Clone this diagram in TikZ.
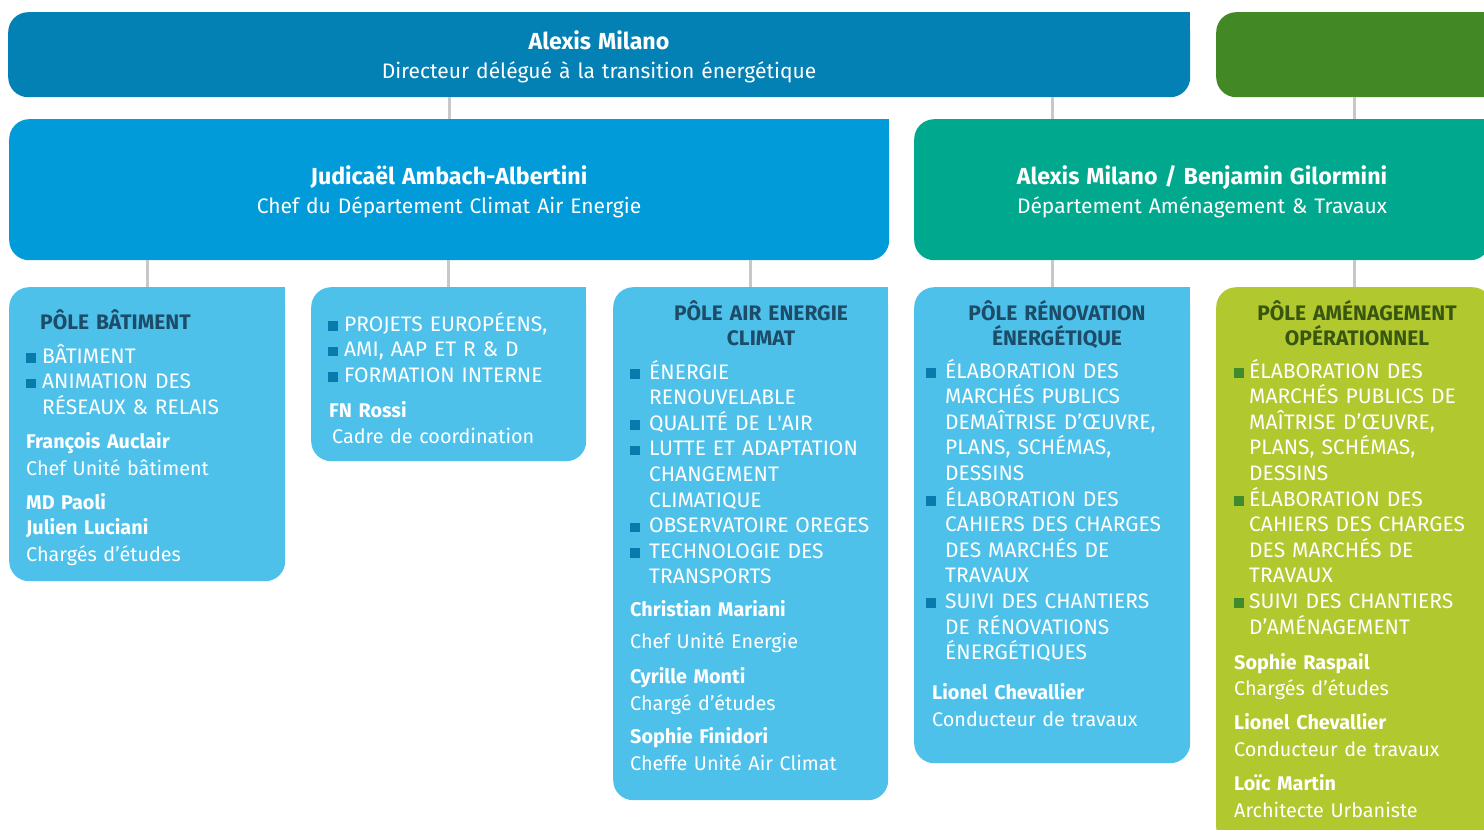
\documentclass[tikz,border=0pt]{standalone}
\usepackage{fontspec}
\setmainfont{Fira Sans}
\usetikzlibrary{positioning}

\definecolor{dirblue}{RGB}{3,128,180}
\definecolor{dirgreen}{RGB}{66,137,38}
\definecolor{depblue}{RGB}{0,155,216}
\definecolor{depgreen}{RGB}{0,169,142}
\definecolor{poleblue}{RGB}{78,193,235}
\definecolor{polegreen}{RGB}{177,200,46}
\definecolor{bulblue}{RGB}{9,122,172}
\definecolor{bulgreen}{RGB}{63,138,44}
\definecolor{titblue}{RGB}{29,76,104}
\definecolor{titgreen}{RGB}{57,86,16}
\definecolor{linkgray}{RGB}{200,200,200}

\newcommand{\polebul}[2][bulblue]{\makebox[#2][l]{\textcolor{#1}{\rule[0.5pt]{9.5pt}{9.5pt}}}}
\newcommand{\contind}[1]{\hspace*{#1}}
\newcommand{\headname}[1]{{\fontsize{23.2}{29}\selectfont\bfseries #1}}

\begin{document}
\begin{tikzpicture}[x=1pt, y=-1pt,
  box/.style={rectangle, rounded corners=20pt, inner sep=0pt, anchor=north west},
  link/.style={draw=linkgray, line width=3pt},
  head/.style={text=white, align=center, text width=860pt, inner sep=0pt, anchor=base,
    font=\fontsize{21}{29}\selectfont},
  poletitle/.style={text=titblue, align=center, text width=270pt, inner sep=0pt, anchor=base,
    font=\fontsize{21}{25}\selectfont\bfseries},
  polelist/.style={text=white, align=left, text width=270pt, inner sep=0pt, anchor=base west,
    font=\fontsize{21}{25.6}\selectfont},
  staff/.style={polelist, font=\fontsize{19.8}{25.6}\selectfont}]

\clip (0,0) rectangle (1484,830);

% boxes
\node[box, fill=dirblue, minimum width=1182pt, minimum height=85pt] (dir) at (8,12) {};
\node[box, fill=dirgreen, minimum width=290pt, minimum height=85pt] (dirg) at (1216,12) {};
\node[box, fill=depblue, minimum width=880pt, minimum height=141pt] (cae) at (9,119) {};
\node[box, fill=depgreen, minimum width=576pt, minimum height=141pt] (amt) at (914,119) {};
\node[box, fill=poleblue, minimum width=276pt, minimum height=294pt] (bat) at (9,287) {};
\node[box, fill=poleblue, minimum width=275pt, minimum height=174pt] (eur) at (311,287) {};
\node[box, fill=poleblue, minimum width=275pt, minimum height=513pt] (aec) at (613,287) {};
\node[box, fill=poleblue, minimum width=276pt, minimum height=476pt] (ren) at (914,287) {};
\node[box, fill=polegreen, minimum width=276pt, minimum height=560pt] (amo) at (1216,287) {};

% square top right corners
\foreach \b/\c in {dir/dirblue, dirg/dirgreen, cae/depblue, amt/depgreen, bat/poleblue, eur/poleblue, aec/poleblue, ren/poleblue}
  \fill[\c] (\b.north east) rectangle ++(-20,20);

% links
\draw[link] (dir.south -| cae.north) -- (cae.north);
\draw[link] (dir.south -| ren.north) -- (amt.north -| ren.north);
\draw[link] (dirg.south -| amo.north) -- (amt.north -| amo.north);
\foreach \p in {bat, eur, aec}
  \draw[link] (cae.south -| \p.north) -- (\p.north);
\foreach \p in {ren, amo}
  \draw[link] (amt.south -| \p.north) -- (\p.north);

% heads
\node[head] (dirtxt) at (599,49) {\headname{Alexis Milano}\\ Directeur délégué à la transition énergétique};
\node[head] (caetxt) at (449,184) {\headname{Judicaël Ambach-Albertini}\\ Chef du Département Climat Air Energie};
\node[head] (amttxt) at (1202,184) {\headname{Alexis Milano / Benjamin Gilormini}\\ Département Aménagement \& Travaux};

% pole batiment
\node[poletitle, anchor=base west, align=left] (battit) at (40,329) {PÔLE BÂTIMENT};
\node[polelist] (batlst) at (26,363) {\polebul{16pt}BÂTIMENT\\ \polebul{16pt}ANIMATION DES\\ \contind{16pt}RÉSEAUX \& RELAIS};
\node[staff] (batstf) at (26,448) {\textbf{François Auclair}\\[1.4pt] Chef Unité bâtiment\\[8.4pt] \textbf{MD Paoli}\\ \textbf{Julien Luciani}\\[1.4pt] Chargés d’études};

% projets europeens
\node[polelist] (eurlst) at (328,331) {\polebul{16pt}PROJETS EUROPÉENS,\\ \polebul{16pt}AMI, AAP ET R \& D\\ \polebul{16pt}FORMATION INTERNE};
\node[staff] (eurstf) at (329,417) {\textbf{FN Rossi}\\[0.4pt] \contind{3pt}Cadre de coordination};

% pole air energie climat
\node[poletitle] (aectit) at (761,320) {PÔLE AIR ENERGIE\\ CLIMAT};
\node[polelist] (aeclst) at (630,379) {\polebul{19pt}ÉNERGIE\\ \contind{19pt}RENOUVELABLE\\ \polebul{19pt}QUALITÉ DE L\textquotesingle AIR\\
  \polebul{19pt}LUTTE ET ADAPTATION\\ \contind{19pt}CHANGEMENT\\ \contind{19pt}CLIMATIQUE\\ \polebul{19pt}OBSERVATOIRE OREGES\\
  \polebul{19pt}TECHNOLOGIE DES\\ \contind{19pt}TRANSPORTS};
\node[staff] (aecstf) at (630,616) {\textbf{Christian Mariani}\\[6.4pt] Chef Unité Energie\\[9.4pt] \textbf{Cyrille Monti}\\[1.4pt] Chargé d’études\\[7.4pt]
  \textbf{Sophie Finidori}\\[1.4pt] Cheffe Unité Air Climat};

% pole renovation energetique
\node[poletitle] (rentit) at (1057,320) {PÔLE RÉNOVATION\\ ÉNERGÉTIQUE};
\node[polelist] (renlst) at (926,378) {\polebul{19pt}ÉLABORATION DES\\ \contind{19pt}MARCHÉS PUBLICS\\ \contind{19pt}DEMAÎTRISE D’ŒUVRE,\\
  \contind{19pt}PLANS, SCHÉMAS,\\ \contind{19pt}DESSINS\\ \polebul{19pt}ÉLABORATION DES\\ \contind{19pt}CAHIERS DES CHARGES\\
  \contind{19pt}DES MARCHÉS DE\\ \contind{19pt}TRAVAUX\\ \polebul{19pt}SUIVI DES CHANTIERS\\ \contind{19pt}DE RÉNOVATIONS\\
  \contind{19pt}ÉNERGÉTIQUES};
\node[staff] (renstf) at (932,699) {\textbf{Lionel Chevallier}\\[1.4pt] Conducteur de travaux};

% pole amenagement operationnel
\node[poletitle, text=titgreen] (amotit) at (1357,320) {PÔLE AMÉNAGEMENT\\ OPÉRATIONNEL};
\node[polelist] (amolst) at (1234,378) {\polebul[bulgreen]{15pt}ÉLABORATION DES\\ \contind{15pt}MARCHÉS PUBLICS DE\\ \contind{15pt}MAÎTRISE D’ŒUVRE,\\
  \contind{15pt}PLANS, SCHÉMAS,\\ \contind{15pt}DESSINS\\ \polebul[bulgreen]{15pt}ÉLABORATION DES\\ \contind{15pt}CAHIERS DES CHARGES\\
  \contind{15pt}DES MARCHÉS DE\\ \contind{15pt}TRAVAUX\\ \polebul[bulgreen]{15pt}SUIVI DES CHANTIERS\\ \contind{15pt}D’AMÉNAGEMENT};
\node[staff] (amostf) at (1234,669) {\textbf{Sophie Raspail}\\[0.4pt] Chargés d’études\\[8.4pt] \textbf{Lionel Chevallier}\\[1.4pt] Conducteur de travaux\\[8.4pt]
  \textbf{Loïc Martin}\\[1.4pt] Architecte Urbaniste};
\end{tikzpicture}
\end{document}
